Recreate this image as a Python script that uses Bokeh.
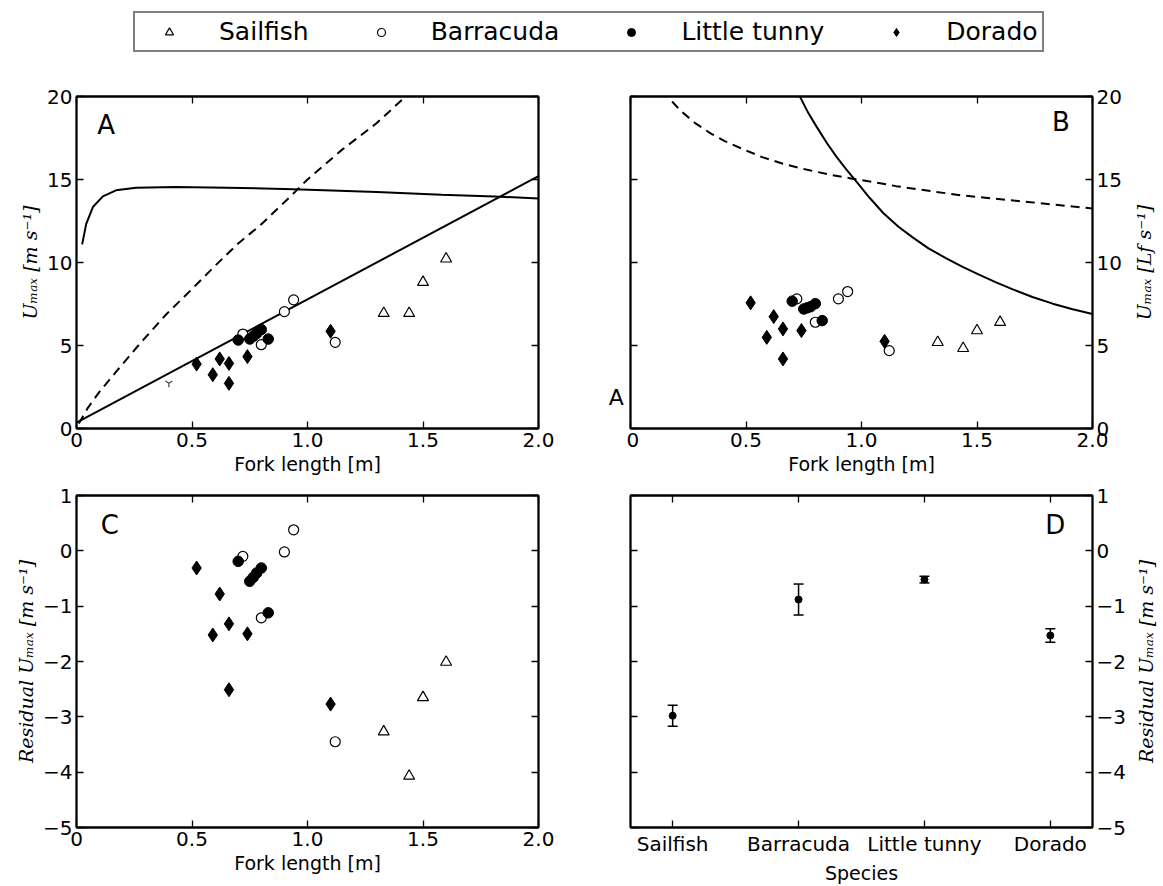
import math
from bokeh.plotting import figure
from bokeh.models import (Range1d, LinearAxis, FixedTicker, Legend, LegendItem,
                          Label, ColumnDataSource, Whisker, TeeHead)
from bokeh.layouts import column, row
from bokeh.embed import file_html
from bokeh.resources import INLINE

# ---------------- data ----------------
species = ["Sailfish", "Barracuda", "Little tunny", "Dorado"]

# fork length [m], U_max [m/s], U_max [Lf/s], residual U_max [m/s]
sail_L = [1.33, 1.44, 1.50, 1.60]
sail_U = [6.94, 6.94, 8.81, 10.22]
sail_Ub = [5.19, 4.83, 5.90, 6.40]
sail_res = [-3.27, -4.07, -2.65, -2.01]

barr_L = [0.72, 0.80, 0.90, 0.94, 1.12]
barr_U = [5.69, 5.05, 7.04, 7.75, 5.19]
barr_Ub = [7.81, 6.40, 7.81, 8.25, 4.69]
barr_res = [-0.10, -1.21, -0.02, 0.38, -3.45]

tuna_L = [0.70, 0.75, 0.765, 0.78, 0.80, 0.83]
tuna_U = [5.33, 5.39, 5.55, 5.72, 5.96, 5.39]
tuna_Ub = [7.67, 7.20, 7.27, 7.34, 7.52, 6.50]
tuna_res = [-0.19, -0.55, -0.48, -0.40, -0.31, -1.12]

dor_L = [0.52, 0.62, 0.66, 0.59, 0.74, 0.66, 1.10]
dor_U = [3.88, 4.19, 3.92, 3.24, 4.33, 2.72, 5.86]
dor_Ub = [7.57, 6.74, 6.00, 5.49, 5.90, 4.19, 5.25]
dor_res = [-0.31, -0.78, -1.32, -1.52, -1.50, -2.51, -2.77]

stray_L = [0.40]
stray_U = [2.72]

# model curves, panel A
modelA_L = [0.0245, 0.042, 0.071, 0.114, 0.171, 0.258, 0.43, 0.65, 0.94, 1.30, 1.58, 1.81, 2.0]
modelA_U = [11.09, 12.33, 13.34, 13.98, 14.35, 14.51, 14.55, 14.51, 14.41, 14.25, 14.08, 13.98, 13.86]
dashA_L = [0.01, 0.05, 0.10, 0.18, 0.28, 0.39, 0.50, 0.60, 0.70, 0.80, 0.92, 1.00, 1.15, 1.30, 1.44]
dashA_U = [0.30, 1.26, 2.22, 3.56, 5.20, 6.90, 8.40, 9.80, 11.15, 12.30, 13.90, 15.00, 16.80, 18.40, 20.20]
fitA_L = [0.0, 2.0]
fitA_U = [0.36, 15.2]

# model curves, panel B
dashB_L = [0.18, 0.22, 0.28, 0.35, 0.41, 0.50, 0.57, 0.66, 0.76, 0.86, 0.96, 1.05,
           1.15, 1.30, 1.43, 1.57, 1.72, 1.86, 2.0]
dashB_U = [19.7, 19.1, 18.4, 17.75, 17.3, 16.75, 16.35, 15.95, 15.6, 15.3, 15.05, 14.85,
           14.6, 14.3, 14.05, 13.85, 13.65, 13.45, 13.25]
modelB_L = [0.734, 0.77, 0.806, 0.85, 0.892, 0.935, 0.979, 1.035, 1.094, 1.16, 1.223,
            1.29, 1.367, 1.44, 1.511, 1.58, 1.655, 1.74, 1.828, 1.91, 2.0]
modelB_U = [19.98, 19.0, 18.17, 17.2, 16.36, 15.6, 14.85, 13.9, 12.98, 12.15, 11.5,
            10.85, 10.25, 9.72, 9.25, 8.82, 8.38, 7.92, 7.52, 7.2, 6.9]

# panel D: mean residual per species and error
res_mean = [-2.98, -0.88, -0.52, -1.53]
res_err = [0.19, 0.28, 0.06, 0.12]

# ticks
len_ticks = [0, 0.5, 1.0, 1.5, 2.0]
len_labels = ["0", "0.5", "1.0", "1.5", "2.0"]
u_ticks = [0, 5, 10, 15, 20]
res_ticks = [-5, -4, -3, -2, -1, 0, 1]
res_labels = ["\u22125", "\u22124", "\u22123", "\u22122", "\u22121", "0", "1"]

# ---------------- styling ----------------
FONT = "DejaVu Sans"
SERIF = "DejaVu Serif"
TICK_FS = "20px"
LAB_FS = "19px"
FW, FH = 462, 332
TOP_MB = (42, 54)     # top row: border above / below frame
BOT_MB = (13, 48)     # bottom row


def add_axis(p, side, ticks, labels=None, show=True, label=None,
             label_font=FONT, label_style="normal"):
    ax = LinearAxis(ticker=FixedTicker(ticks=ticks))
    ax.major_tick_in = 7
    ax.major_tick_out = 0
    ax.minor_tick_in = 0
    ax.minor_tick_out = 0
    ax.minor_tick_line_color = None
    ax.major_tick_line_color = "black"
    ax.major_tick_line_width = 1.3
    ax.axis_line_color = "black"
    ax.axis_line_width = 1.8
    if show:
        ax.major_label_text_font = FONT
        ax.major_label_text_font_size = TICK_FS
        ax.major_label_text_color = "black"
        ax.major_label_standoff = 4
        if labels is not None:
            ax.major_label_overrides = {t: l for t, l in zip(ticks, labels)}
    else:
        ax.major_label_text_font_size = "0px"
        ax.major_label_text_color = None
        ax.major_label_standoff = 0
    if label:
        ax.axis_label = label
        ax.axis_label_text_font = label_font
        ax.axis_label_text_font_style = label_style
        ax.axis_label_text_font_size = LAB_FS
        ax.axis_label_text_color = "black"
        ax.axis_label_standoff = 3
    p.add_layout(ax, side)
    return ax


def blank(width, mb, xr=(0, 1), yr=(0, 1)):
    f = figure(frame_width=width, frame_height=FH, x_range=Range1d(*xr), y_range=Range1d(*yr),
               x_axis_location=None, y_axis_location=None,
               output_backend="svg", toolbar_location=None,
               min_border_left=0, min_border_right=0,
               min_border_top=mb[0], min_border_bottom=mb[1])
    f.grid.visible = False
    f.outline_line_color = None
    return f


def side_label(text, mb):
    f = blank(34, mb)
    f.add_layout(Label(x=0.5, y=0.5, text=text, angle=math.pi / 2,
                       text_align="center", text_baseline="middle",
                       text_font=SERIF, text_font_style="italic",
                       text_font_size=LAB_FS, text_color="black"))
    return f


def panel(xr, yr, left, right, mb):
    p = figure(frame_width=FW, frame_height=FH, x_range=Range1d(*xr), y_range=Range1d(*yr),
               x_axis_location=None, y_axis_location=None,
               output_backend="svg", toolbar_location=None,
               min_border_left=left, min_border_right=right,
               min_border_top=mb[0], min_border_bottom=mb[1])
    p.grid.visible = False
    p.outline_line_color = "black"
    p.outline_line_width = 1.8
    p.background_fill_color = "white"
    p.border_fill_color = "white"
    return p


def letter(p, x, y, t, size="26px"):
    p.add_layout(Label(x=x, y=y, text=t, text_font=FONT, text_font_size=size,
                       text_align="center", text_baseline="middle", text_color="black"))


STYLES = [
    dict(marker="triangle", size=11, fill_color="white", line_color="black", line_width=1.2),
    dict(marker="circle", size=10, fill_color="white", line_color="black", line_width=1.2),
    dict(marker="circle", size=10.5, fill_color="black", line_color="black", line_width=1),
    dict(marker="diamond", size=14, fill_color="black", line_color="black", line_width=1),
]


def scatter_species(p, xs, ys):
    for x, y, st in zip(xs, ys, STYLES):
        p.scatter(x, y, **st)


Y_LAB_A = "U\u2098\u2090\u2093 [m s\u207b\u00b9]"
Y_LAB_B = "U\u2098\u2090\u2093 [Lf s\u207b\u00b9]"
Y_LAB_C = "Residual U\u2098\u2090\u2093 [m s\u207b\u00b9]"
X_LAB = "Fork length [m]"

# ---------------- legend strip ----------------
lf = figure(width=1160, height=54, x_range=Range1d(0, 1), y_range=Range1d(0, 1),
            x_axis_location=None, y_axis_location=None, output_backend="svg",
            toolbar_location=None, min_border=0)
lf.grid.visible = False
lf.outline_line_color = None
leg_r = []
for st in STYLES:
    kw = dict(st)
    kw.pop("size")
    leg_r.append(lf.scatter(x=[-5], y=[-5], **kw))   # off-frame stand-ins for the legend
legend = Legend(items=[LegendItem(label=s, renderers=[r]) for s, r in zip(species, leg_r)],
                orientation="horizontal", location=(133, 2), padding=4, margin=0,
                spacing=42, glyph_width=60, glyph_height=20, label_standoff=20,
                label_text_font=FONT, label_text_font_size="25px", label_text_color="black",
                border_line_color="black", border_line_width=2,
                background_fill_color="white", background_fill_alpha=1)
lf.add_layout(legend)

# ---------------- panel A ----------------
pA = panel((0, 2.0), (0, 20), 76, 20, TOP_MB)
add_axis(pA, "below", len_ticks, len_labels, label=X_LAB)
add_axis(pA, "above", len_ticks, show=False)
add_axis(pA, "left", u_ticks, label=Y_LAB_A, label_font=SERIF, label_style="italic")
add_axis(pA, "right", u_ticks, show=False)
pA.line(modelA_L, modelA_U, line_color="black", line_width=2)
pA.line(dashA_L, dashA_U, line_color="black", line_width=2, line_dash="9 6")
pA.line(fitA_L, fitA_U, line_color="black", line_width=2)
pA.scatter(stray_L, stray_U, marker="y", size=8, line_color="#444444", line_width=1.2)
scatter_species(pA, [sail_L, barr_L, tuna_L, dor_L], [sail_U, barr_U, tuna_U, dor_U])
letter(pA, 0.128, 18.3, "A")

# gap between A and B (holds the stray "A" of the reference)
midAB = blank(68, TOP_MB, yr=(0, 20))
letter(midAB, 0.85, 1.87, "A", size="22px")

# ---------------- panel B ----------------
pB = panel((0, 2.0), (0, 20), 4, 34, TOP_MB)
add_axis(pB, "below", len_ticks, len_labels, label=X_LAB)
add_axis(pB, "above", len_ticks, show=False)
add_axis(pB, "right", u_ticks)
add_axis(pB, "left", u_ticks, show=False)
pB.line(dashB_L, dashB_U, line_color="black", line_width=2, line_dash="9 6")
pB.line(modelB_L, modelB_U, line_color="black", line_width=2)
scatter_species(pB, [sail_L, barr_L, tuna_L, dor_L], [sail_Ub, barr_Ub, tuna_Ub, dor_Ub])
letter(pB, 1.863, 18.45, "B")
labB = side_label(Y_LAB_B, TOP_MB)

# ---------------- panel C ----------------
pC = panel((0, 2.0), (-5, 1), 76, 88, BOT_MB)
add_axis(pC, "below", len_ticks, len_labels, label=X_LAB)
add_axis(pC, "above", len_ticks, show=False)
add_axis(pC, "left", res_ticks, res_labels, label=Y_LAB_C, label_font=SERIF, label_style="italic")
add_axis(pC, "right", res_ticks, show=False)
scatter_species(pC, [sail_L, barr_L, tuna_L, dor_L], [sail_res, barr_res, tuna_res, dor_res])
letter(pC, 0.144, 0.46, "C")

# ---------------- panel D ----------------
cat_x = list(range(len(species)))
pD = panel((-0.335, len(species) - 1 + 0.335), (-5, 1), 4, 34, BOT_MB)
add_axis(pD, "below", cat_x, species, label="Species")
add_axis(pD, "above", cat_x, show=False)
add_axis(pD, "right", res_ticks, res_labels)
add_axis(pD, "left", res_ticks, show=False)
srcD = ColumnDataSource(dict(
    x=cat_x, y=res_mean,
    upper=[m + e for m, e in zip(res_mean, res_err)],
    lower=[m - e for m, e in zip(res_mean, res_err)]))
wh = Whisker(source=srcD, base="x", upper="upper", lower="lower", dimension="height",
             line_color="black", line_width=1.5,
             upper_head=TeeHead(size=10, line_color="black", line_width=1.5),
             lower_head=TeeHead(size=10, line_color="black", line_width=1.5))
pD.add_layout(wh)
pD.scatter("x", "y", source=srcD, marker="circle", size=7, fill_color="black", line_color="black")
letter(pD, 3.04, 0.46, "D")
labD = side_label(Y_LAB_C, BOT_MB)

layout = column(lf, row(pA, midAB, pB, labB), row(pC, pD, labD))
open("out.html", "w").write(file_html(layout, INLINE, title="Fish swimming speeds"))
